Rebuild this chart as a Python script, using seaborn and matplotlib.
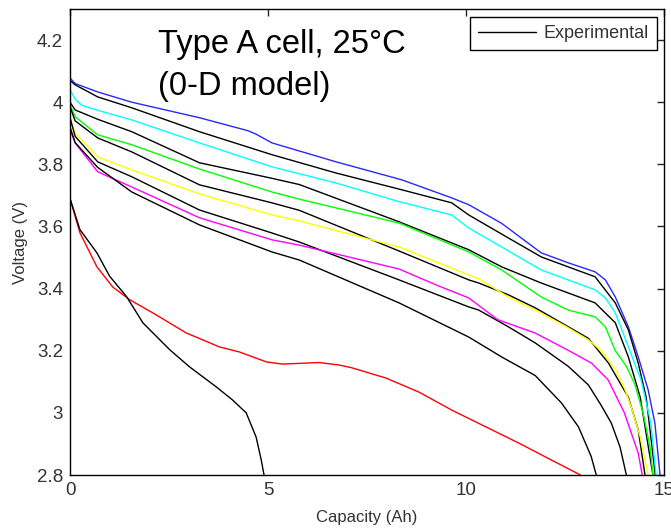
import numpy as np
import pandas as pd
import matplotlib
matplotlib.use('Agg')
import matplotlib.pyplot as plt
from matplotlib.lines import Line2D
import seaborn as sns

# discharge curves: capacity (Ah) and voltage (V)
blue_x = [0, 0.13, 0.7, 1.56, 3.27, 4.5, 4.7, 5.1, 6.72, 8.38, 9.64, 10.07, 10.9, 11.9, 12.58, 13.26, 13.52, 13.77, 14.1, 14.35, 14.6, 14.77, 14.9]
blue_v = [4.078, 4.06, 4.033, 4.0, 3.95, 3.908, 3.897, 3.869, 3.808, 3.75, 3.692, 3.67, 3.61, 3.515, 3.483, 3.454, 3.428, 3.373, 3.277, 3.18, 3.074, 2.967, 2.8]

cyan_x = [0, 0.13, 0.3, 0.7, 1.56, 3.27, 5.1, 6.72, 8.31, 9.64, 10.07, 10.9, 11.9, 12.58, 13.26, 13.52, 13.77, 14.1, 14.42, 14.67, 14.8]
cyan_v = [4.04, 4.01, 3.99, 3.974, 3.943, 3.869, 3.792, 3.74, 3.68, 3.637, 3.595, 3.534, 3.46, 3.428, 3.396, 3.37, 3.322, 3.212, 3.106, 2.967, 2.8]

green_x = [0, 0.13, 0.7, 1.56, 3.27, 5.1, 5.79, 8.31, 10.07, 10.9, 11.9, 12.58, 13.26, 13.52, 13.77, 14.05, 14.27, 14.47, 14.65, 14.72]
green_v = [3.992, 3.953, 3.895, 3.863, 3.785, 3.711, 3.688, 3.611, 3.518, 3.46, 3.373, 3.331, 3.309, 3.277, 3.2, 3.15, 3.09, 3.0, 2.89, 2.8]

yellow_x = [0, 0.13, 0.7, 1.56, 3.27, 5.1, 5.79, 8.31, 10.07, 10.32, 11.07, 11.75, 12.5, 13.09, 13.42, 13.77, 14.0, 14.17, 14.4, 14.6]
yellow_v = [3.95, 3.9, 3.824, 3.782, 3.705, 3.637, 3.618, 3.534, 3.444, 3.432, 3.373, 3.331, 3.28, 3.235, 3.2, 3.14, 3.08, 3.02, 2.922, 2.8]

magenta_x = [0, 0.13, 0.7, 1.56, 3.27, 5.1, 5.79, 8.31, 9.32, 10.07, 10.8, 11.75, 12.66, 13.17, 13.59, 14.0, 14.35, 14.45]
magenta_v = [3.911, 3.869, 3.776, 3.727, 3.628, 3.557, 3.54, 3.463, 3.408, 3.37, 3.3, 3.257, 3.196, 3.16, 3.106, 3.0, 2.87, 2.8]

red_x = [0, 0.25, 0.68, 1.08, 1.51, 2.09, 2.94, 3.78, 4.28, 4.96, 5.36, 6.29, 6.8, 7.12, 7.98, 8.81, 9.64, 10.5, 11.33, 12.16, 12.89]
red_v = [3.69, 3.58, 3.47, 3.405, 3.364, 3.322, 3.257, 3.212, 3.196, 3.164, 3.157, 3.162, 3.154, 3.145, 3.112, 3.067, 3.009, 2.955, 2.903, 2.848, 2.8]

# experimental curves (black)
exp1_x = [0, 0.13, 0.7, 1.56, 3.27, 5.1, 6.72, 8.38, 9.64, 10.07, 11.07, 11.9, 12.58, 13.26, 13.77, 14.1, 14.35, 14.55, 14.78]
exp1_v = [4.07, 4.056, 4.017, 3.982, 3.905, 3.831, 3.772, 3.718, 3.676, 3.637, 3.563, 3.502, 3.47, 3.438, 3.354, 3.267, 3.16, 3.05, 2.8]

exp2_x = [0, 0.13, 0.7, 1.56, 3.27, 5.1, 5.79, 8.31, 10.07, 10.9, 11.9, 12.58, 13.26, 13.77, 14.1, 14.4, 14.72]
exp2_v = [4.0, 3.975, 3.945, 3.905, 3.805, 3.755, 3.735, 3.615, 3.525, 3.47, 3.418, 3.386, 3.354, 3.29, 3.18, 3.05, 2.8]

exp3_x = [0, 0.13, 0.7, 1.56, 3.27, 5.1, 5.79, 8.31, 10.07, 10.32, 11.07, 11.75, 13.09, 13.6, 14.1, 14.35, 14.52]
exp3_v = [3.985, 3.94, 3.885, 3.84, 3.734, 3.676, 3.652, 3.521, 3.428, 3.418, 3.38, 3.338, 3.24, 3.16, 3.05, 2.945, 2.8]

exp4_x = [0, 0.13, 0.7, 1.56, 3.27, 5.1, 5.79, 8.31, 10.07, 10.32, 11.07, 11.75, 12.58, 13.09, 13.41, 13.67, 13.89, 14.05]
exp4_v = [3.95, 3.89, 3.808, 3.76, 3.653, 3.579, 3.55, 3.428, 3.341, 3.331, 3.277, 3.225, 3.15, 3.09, 3.025, 2.967, 2.89, 2.8]

exp5_x = [0, 0.13, 0.7, 1.56, 3.27, 5.1, 5.79, 8.31, 10.07, 10.9, 11.75, 12.41, 12.84, 13.16, 13.29]
exp5_v = [3.92, 3.87, 3.79, 3.711, 3.605, 3.518, 3.492, 3.354, 3.244, 3.18, 3.12, 3.032, 2.955, 2.86, 2.8]

exp6_x = [0, 0.25, 0.68, 1.0, 1.43, 1.84, 2.52, 3.02, 3.7, 4.1, 4.45, 4.7, 4.83, 4.9]
exp6_v = [3.69, 3.59, 3.515, 3.44, 3.374, 3.29, 3.203, 3.148, 3.083, 3.042, 3.0, 2.922, 2.848, 2.8]

curves = {
    'sim_blue': (blue_x, blue_v, '#2828ff'),
    'exp1': (exp1_x, exp1_v, 'black'),
    'sim_cyan': (cyan_x, cyan_v, '#00ffff'),
    'exp2': (exp2_x, exp2_v, 'black'),
    'sim_green': (green_x, green_v, '#00ff00'),
    'exp3': (exp3_x, exp3_v, 'black'),
    'sim_yellow': (yellow_x, yellow_v, '#ffff00'),
    'exp4': (exp4_x, exp4_v, 'black'),
    'sim_magenta': (magenta_x, magenta_v, '#ff00ff'),
    'exp5': (exp5_x, exp5_v, 'black'),
    'sim_red': (red_x, red_v, '#ff0000'),
    'exp6': (exp6_x, exp6_v, 'black'),
}

#Long table for seaborn
rows = []
for name, (xs, vs, _) in curves.items():
    for i, (x, v) in enumerate(zip(xs, vs)):
        rows.append({'curve': name, 'order': i, 'Capacity': x, 'Voltage': v})
df = pd.DataFrame(rows)
palette = {name: c for name, (_, _, c) in curves.items()}

sns.set_theme(style='white')
plt.rcParams['font.family'] = ['Liberation Sans', 'DejaVu Sans']

fig = plt.figure(figsize=(6.71, 5.31), dpi=100)
ax = fig.add_axes([70/671, 1-475/531, 594/671, 466/531])

sns.lineplot(data=df, x='Capacity', y='Voltage', hue='curve', units='curve',
             estimator=None, sort=False, palette=palette, linewidth=1.0,
             legend=False, ax=ax)

ax.set_xlim(0, 15)
ax.set_ylim(2.8, 4.3)
ax.set_xticks([0, 5, 10, 15])
ax.set_xticklabels(['0', '5', '10', '15'])
ax.set_yticks([2.8, 3.0, 3.2, 3.4, 3.6, 3.8, 4.0, 4.2])
ax.set_yticklabels(['2.8', '3', '3.2', '3.4', '3.6', '3.8', '4', '4.2'])
ax.tick_params(direction='in', top=True, right=True, length=5, width=1,
               labelsize=13.5, labelcolor='#333333', pad=5)
for s in ax.spines.values():
    s.set_color('black')
    s.set_linewidth(1.0)

ax.set_xlabel('Capacity (Ah)', fontsize=12, color='#333333', labelpad=8)
ax.set_ylabel('Voltage (V)', fontsize=12, color='#333333', labelpad=6)

ax.text(0.148, 0.957, 'Type A cell, 25°C\n(0-D model)', transform=ax.transAxes,
        fontsize=23.5, color='black', va='top', ha='left', linespacing=1.45)

handle = Line2D([], [], color='black', linewidth=1.0)
leg = ax.legend([handle], ['Experimental'], loc='upper right',
                bbox_to_anchor=(0.988, 0.983), borderaxespad=0, fancybox=False,
                framealpha=1, edgecolor='black', fontsize=13, handlelength=3.2,
                borderpad=0.45, handletextpad=0.4)
leg.get_frame().set_linewidth(1.0)
for t in leg.get_texts():
    t.set_color('#333333')

fig.savefig('out.png', dpi=100)
